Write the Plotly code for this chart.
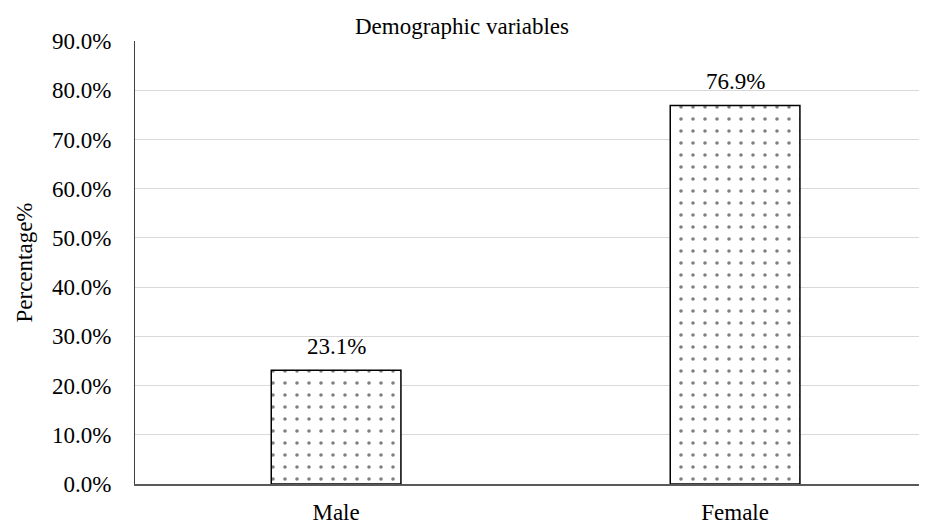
import plotly.graph_objects as go

categories = ["Male", "Female"]
values = [23.1, 76.9]
labels = ["23.1%", "76.9%"]
tick_vals = [0, 10, 20, 30, 40, 50, 60, 70, 80, 90]
tick_text = [f"{v:.1f}%" for v in tick_vals]

font_family = "Liberation Serif"
FS = 23

fig = go.Figure()
fig.add_trace(go.Bar(
    x=categories, y=values,
    width=0.325,
    marker=dict(
        color="white",
        line=dict(color="black", width=1.5),
        pattern=dict(shape=".", fgcolor="black", bgcolor="white", size=12, solidity=0.07),
    ),
))

for c, v, t in zip(categories, values, labels):
    fig.add_annotation(x=c, y=v, text=t, showarrow=False, yanchor="bottom", yshift=9,
                       font=dict(family=font_family, size=FS, color="#000"))

fig.update_layout(
    width=919, height=517,
    margin=dict(l=127, r=0, t=33, b=41),
    paper_bgcolor="white", plot_bgcolor="white",
    showlegend=False,
    font=dict(family=font_family, size=FS, color="#000"),
    title=dict(text="Demographic variables", x=0.494, xanchor="center", y=1 - 18 / 517, yanchor="middle",
               font=dict(family=font_family, size=FS, color="#000")),
)
fig.update_yaxes(
    range=[0, 90], tickvals=tick_vals, ticktext=tick_text,
    showgrid=True, gridcolor="#d9d9d9", gridwidth=1.2,
    showline=True, linecolor="#404040", linewidth=1.2,
    zeroline=False, ticks="", ticklabelstandoff=18, automargin=False,
    title=dict(text="Percentage%", font=dict(family=font_family, size=FS), standoff=12),
    tickfont=dict(family=font_family, size=FS),
)
fig.update_xaxes(
    range=[-0.504, 1.481],
    showline=True, linecolor="#595959", linewidth=2,
    ticks="", ticklabelstandoff=6, automargin=False,
    tickfont=dict(family=font_family, size=FS),
)

fig.write_html("out.html")
